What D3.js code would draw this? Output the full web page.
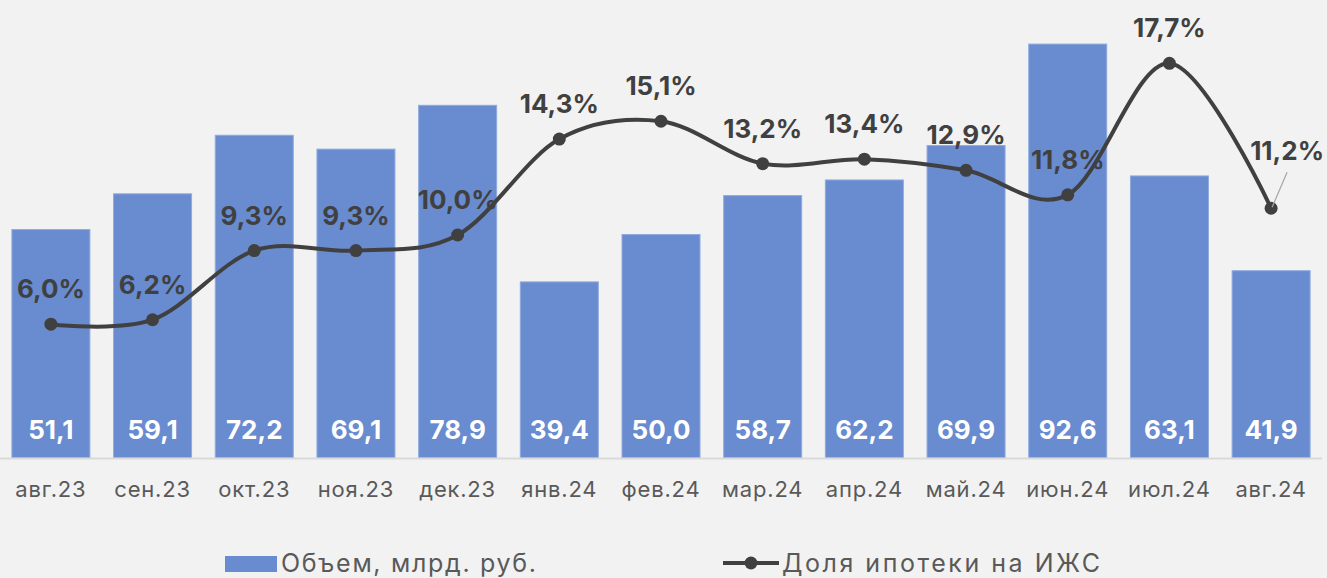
<!DOCTYPE html>
<html>
<head>
<meta charset="utf-8">
<script src="https://cdn.jsdelivr.net/npm/d3@7"></script>
<style>
  body { margin: 0; background: #f2f2f2; }
  svg { display: block; font-family: Inter, "Noto Sans", sans-serif; }
</style>
</head>
<body>
<div id="chart"></div>
<script>
const months = ['авг.23', 'сен.23', 'окт.23', 'ноя.23', 'дек.23', 'янв.24', 'фев.24',
    'мар.24', 'апр.24', 'май.24', 'июн.24', 'июл.24', 'авг.24']
const volume = [51.1, 59.1, 72.2, 69.1, 78.9, 39.4, 50.0, 58.7, 62.2, 69.9, 92.6, 63.1, 41.9]
const share = [6.0, 6.2, 9.3, 9.3, 10.0, 14.3, 15.1, 13.2, 13.4, 12.9, 11.8, 17.7, 11.2]
const legendNames = ['Объем, млрд. руб.', 'Доля ипотеки на ИЖС']

const w = 1327
const h = 578
const fmt = (v) => v.toFixed(1).replace('.', ',')

const svg = d3.select('#chart')
    .append('svg')
    .attr('width', w)
    .attr('height', h)

svg.append('rect').attr('width', w).attr('height', h).attr('fill', '#f2f2f2')

// scales
const x = d3.scaleBand()
    .domain(months)
    .range([0, 1322])
    .paddingInner(0.233)
    .paddingOuter(0.117)

const yBar = d3.scaleLinear().domain([0, 100]).range([458, 11])
const yLine = d3.scaleLinear().domain([0, 20]).range([458, 12])

// bars
svg.selectAll('rect.bar')
    .data(volume)
    .enter()
    .append('rect')
    .attr('class', 'bar')
    .attr('x', (d, i) => x(months[i]))
    .attr('y', (d) => yBar(d))
    .attr('width', x.bandwidth())
    .attr('height', (d) => yBar(0) - yBar(d))
    .attr('fill', '#698bcf')
    .attr('stroke', '#8eaadf')
    .attr('stroke-width', 1)

// baseline
svg.append('line')
    .attr('x1', 0).attr('x2', 1322)
    .attr('y1', yBar(0) + 0.5).attr('y2', yBar(0) + 0.5)
    .attr('stroke', '#d9d9d9').attr('stroke-width', 2)

// bar values
svg.selectAll('text.bv')
    .data(volume)
    .enter()
    .append('text')
    .attr('class', 'bv')
    .attr('x', (d, i) => x(months[i]) + x.bandwidth() / 2)
    .attr('y', 439)
    .attr('text-anchor', 'middle')
    .attr('font-size', 26)
    .attr('font-weight', 700)
    .attr('fill', '#ffffff')
    .text(fmt)

// x axis labels
const xAxis = svg.append('g')
    .attr('transform', `translate(0,${yBar(0)})`)
    .call(d3.axisBottom(x).tickSize(0).tickPadding(0))
xAxis.select('.domain').remove()
xAxis.selectAll('text')
    .attr('dy', 0)
    .attr('y', 39)
    .attr('font-family', 'Inter, "Noto Sans", sans-serif')
    .attr('font-size', 22)
    .attr('letter-spacing', 0.8)
    .attr('fill', '#595959')

// share line
const cx = (i) => x(months[i]) + x.bandwidth() / 2
const line = d3.line()
    .x((d, i) => cx(i))
    .y((d) => yLine(d))
    .curve(d3.curveCardinal.tension(0))

svg.append('path')
    .datum(share)
    .attr('d', line)
    .attr('fill', 'none')
    .attr('stroke', '#404040')
    .attr('stroke-width', 4)

svg.selectAll('circle.pt')
    .data(share)
    .enter()
    .append('circle')
    .attr('class', 'pt')
    .attr('cx', (d, i) => cx(i))
    .attr('cy', (d) => yLine(d))
    .attr('r', 6.5)
    .attr('fill', '#404040')

// share labels, last one pulled out with a leader line
const last = share.length - 1
const nudge = share.map((d, i) => i === last ? [16, -48] : [0, -26])
svg.append('line')
    .attr('x1', cx(last) + 16).attr('y1', yLine(share[last]) - 36)
    .attr('x2', cx(last) + 1).attr('y2', yLine(share[last]) - 1)
    .attr('stroke', '#a6a6a6').attr('stroke-width', 1.2)

svg.selectAll('text.sv')
    .data(share)
    .enter()
    .append('text')
    .attr('class', 'sv')
    .attr('x', (d, i) => cx(i) + nudge[i][0])
    .attr('y', (d, i) => yLine(d) + nudge[i][1])
    .attr('text-anchor', 'middle')
    .attr('font-size', 26)
    .attr('font-weight', 700)
    .attr('fill', '#404040')
    .text((d) => fmt(d) + '%')

// legend
const leg = svg.append('g').attr('font-size', 25).attr('fill', '#595959')
leg.append('rect')
    .attr('x', 225).attr('y', 556).attr('width', 52).attr('height', 16)
    .attr('fill', '#698bcf')
leg.append('text').attr('x', 281).attr('y', 572)
    .attr('textLength', 255).attr('lengthAdjust', 'spacing')
    .text(legendNames[0])
leg.append('line')
    .attr('x1', 723).attr('x2', 779).attr('y1', 563).attr('y2', 563)
    .attr('stroke', '#404040').attr('stroke-width', 4)
leg.append('circle').attr('cx', 751).attr('cy', 563).attr('r', 6.5).attr('fill', '#404040')
leg.append('text').attr('x', 782).attr('y', 572)
    .attr('textLength', 318).attr('lengthAdjust', 'spacing')
    .text(legendNames[1])
</script>
</body>
</html>
